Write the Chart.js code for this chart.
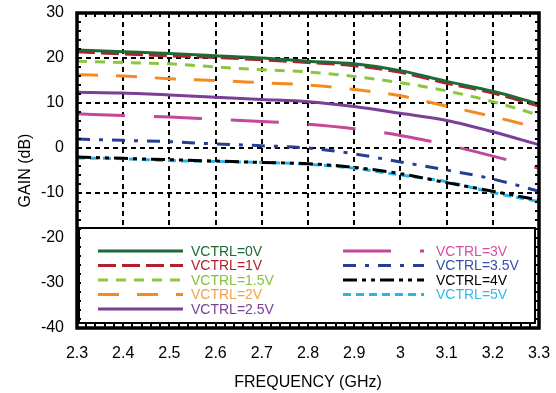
<!DOCTYPE html>
<html>
<head>
<meta charset="utf-8">
<script src="https://cdn.jsdelivr.net/npm/chart.js@4/dist/chart.umd.min.js"></script>
<style>
html,body{margin:0;padding:0;background:#fff;}
#wrap{width:556px;height:393px;}
</style>
</head>
<body>
<div id="wrap"><canvas id="c" width="556" height="393"></canvas></div>
<script>
// ---- data ----
const freqs = [2.3, 2.4, 2.5, 2.6, 2.7, 2.8, 2.9, 3.0, 3.1, 3.2, 3.3];
const freqLabels = ['2.3','2.4','2.5','2.6','2.7','2.8','2.9','3','3.1','3.2','3.3'];
const gainTicks = [-40, -30, -20, -10, 0, 10, 20, 30];

const seriesNames = ['VCTRL=0V','VCTRL=1V','VCTRL=1.5V','VCTRL=2V','VCTRL=2.5V','VCTRL=3V','VCTRL=3.5V','VCTRL=4V','VCTRL=5V'];
const v0V   = [21.8, 21.4, 21.0, 20.5, 20.0, 19.3, 18.7, 17.2, 14.8, 12.6, 9.8];
const v1V   = [21.4, 20.9, 20.5, 20.1, 19.6, 19.0, 18.3, 16.8, 14.4, 12.2, 9.3];
const v1_5V = [19.3, 19.0, 18.7, 18.0, 17.4, 16.9, 15.9, 14.5, 12.7, 10.3, 7.3];
const v2V   = [16.3, 16.0, 15.4, 15.0, 14.5, 14.0, 13.0, 11.6, 9.3, 7.0, 4.4];
const v2_5V = [12.4, 12.2, 11.8, 11.3, 10.8, 10.3, 9.2, 7.7, 6.1, 3.6, 0.7];
const v3V   = [7.6, 7.2, 6.9, 6.4, 5.9, 5.3, 4.3, 2.8, 0.7, -1.8, -4.5];
const v3_5V = [2.0, 1.7, 1.4, 0.9, 0.5, 0.0, -1.3, -3.1, -4.9, -6.9, -9.6];
const v4V   = [-2.0, -2.3, -2.6, -2.9, -3.2, -3.5, -4.3, -5.7, -7.7, -9.6, -11.6];
const v5V   = [-2.2, -2.4, -2.8, -3.0, -3.2, -3.6, -4.5, -6.0, -7.5, -9.9, -11.9];
const seriesValues = [v0V, v1V, v1_5V, v2V, v2_5V, v3V, v3_5V, v4V, v5V];

// ---- styles ----
const lineColors = ['#1d6a37','#b3202b','#8cc63f','#f58b20','#7b3f98','#c4479a','#263e91','#000000','#2db3e8'];
const textColors = ['#1d6a37','#b3202b','#86c23c','#f7a048','#7b3f98','#d450a3','#3550a6','#000000','#35b8ee'];
const dashes = [[], [18,6], [10,8], [21,18], [], [48,29], [13,9,4,9], [14,5,4,5,4,5], [8,5]];

const datasets = seriesNames.map((name, k) => ({
  label: name,
  data: freqs.map((f, i) => ({x: f, y: seriesValues[k][i]})),
  borderColor: lineColors[k],
  backgroundColor: lineColors[k],
  borderWidth: 3,
  borderDash: dashes[k],
  pointRadius: 0,
  cubicInterpolationMode: 'monotone',
  fill: false
}));

const FONT = '"Liberation Sans", Arial, Helvetica, sans-serif';

function noPad(s) {
  s.paddingLeft = 0; s.paddingRight = 0; s.paddingTop = 0; s.paddingBottom = 0;
}

const framePlugin = {
  id: 'frame',
  afterDraw(chart) {
    const {ctx, chartArea: a, scales: {x, y}} = chart;
    ctx.save();
    // legend box
    const bx = a.left + 2, by = Math.round(y.getPixelForValue(-17.8)), bw = a.right - a.left - 6, bh = a.bottom - 5 - by;
    ctx.fillStyle = '#fff';
    ctx.fillRect(bx, by, bw, bh);
    ctx.setLineDash([]);
    ctx.lineWidth = 2;
    ctx.strokeStyle = '#000';
    ctx.strokeRect(bx, by, bw, bh);
    // legend entries
    const rowH = 14.5;
    const row0 = by + 23;
    ctx.font = '14px ' + FONT;
    ctx.textBaseline = 'middle';
    ctx.textAlign = 'left';
    chart.data.datasets.forEach((ds, k) => {
      const col = k < 5 ? 0 : 1;
      const r = k < 5 ? k : k - 5;
      const yy = row0 + r * rowH;
      const x0 = col === 0 ? bx + 19 : bx + 264;
      const x1 = col === 0 ? bx + 104 : bx + 345;
      const tx = col === 0 ? bx + 112 : bx + 357;
      ctx.beginPath();
      ctx.setLineDash(ds.borderDash || []);
      ctx.lineWidth = 3;
      ctx.strokeStyle = ds.borderColor;
      ctx.moveTo(x0, yy);
      ctx.lineTo(x1, yy);
      ctx.stroke();
      ctx.setLineDash([]);
      ctx.fillStyle = textColors[k];
      ctx.fillText(ds.label, tx, yy + 1);
    });
    // minor ticks
    ctx.strokeStyle = '#000';
    ctx.lineWidth = 2;
    ctx.setLineDash([]);
    ctx.beginPath();
    for (let f = 2.3; f <= 3.3001; f += 0.02) {
      const px = Math.round(x.getPixelForValue(f));
      ctx.moveTo(px, a.top); ctx.lineTo(px, a.top + 4);
      ctx.moveTo(px, a.bottom); ctx.lineTo(px, a.bottom - 4);
    }
    for (let g = -40; g <= 30.001; g += 2) {
      const py = Math.round(y.getPixelForValue(g));
      ctx.moveTo(a.left, py); ctx.lineTo(a.left + 4, py);
      ctx.moveTo(a.right, py); ctx.lineTo(a.right - 4, py);
    }
    ctx.stroke();
    // frame
    ctx.lineWidth = 3.5;
    ctx.strokeRect(a.left, a.top, a.right - a.left, a.bottom - a.top);
    ctx.restore();
  }
};

new Chart(document.getElementById('c'), {
  type: 'line',
  data: {datasets},
  options: {
    responsive: false,
    animation: false,
    devicePixelRatio: 1,
    layout: {padding: {left: 0, top: 13, right: 17, bottom: 0}},
    plugins: {legend: {display: false}, tooltip: {enabled: false}},
    scales: {
      x: {
        type: 'linear',
        min: 2.3, max: 3.3,
        afterBuildTicks: s => { s.ticks = freqs.map(v => ({value: v})); },
        afterFit: s => { s.height = 65; noPad(s); },
        ticks: {
          callback: (v, i) => freqLabels[i],
          font: {size: 16, family: FONT},
          color: '#000',
          padding: 16,
          maxRotation: 0,
          autoSkip: false
        },
        grid: {color: '#000', lineWidth: 2, drawTicks: false},
        border: {display: false, dash: [5, 4]},
        title: {display: true, text: 'FREQUENCY (GHz)', color: '#000', font: {size: 16, family: FONT}, padding: {top: 0, bottom: 1}}
      },
      y: {
        min: -40, max: 30,
        afterBuildTicks: s => { s.ticks = gainTicks.map(v => ({value: v})); },
        afterFit: s => { s.width = 77; noPad(s); },
        ticks: {
          font: {size: 16, family: FONT},
          color: '#000',
          padding: 13
        },
        grid: {color: '#000', lineWidth: 2, drawTicks: false},
        border: {display: false, dash: [5, 4]},
        title: {display: true, text: 'GAIN (dB)', color: '#000', font: {size: 16, family: FONT}, padding: {top: 16, bottom: 0}}
      }
    }
  },
  plugins: [framePlugin]
});
</script>
</body>
</html>
